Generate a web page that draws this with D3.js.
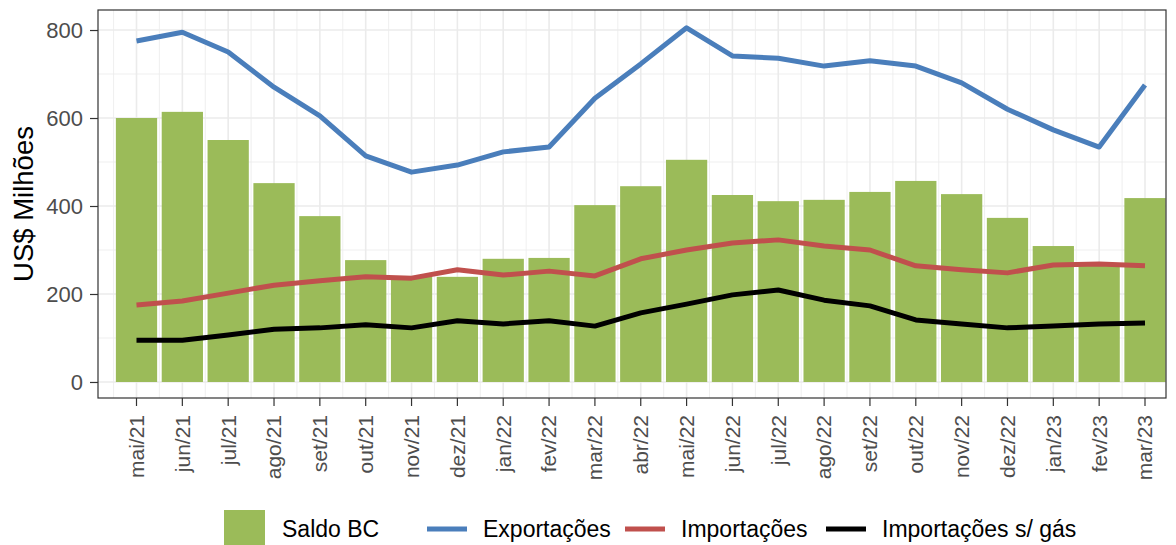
<!DOCTYPE html>
<html>
<head>
<meta charset="utf-8">
<script src="https://cdn.jsdelivr.net/npm/d3@7"></script>
<style>
  body { margin: 0; background: #fff; }
  text { font-family: "Liberation Sans", Arial, sans-serif; }
</style>
</head>
<body>
<div id="chart"></div>
<script>
const months = ["mai/21","jun/21","jul/21","ago/21","set/21","out/21","nov/21","dez/21",
  "jan/22","fev/22","mar/22","abr/22","mai/22","jun/22","jul/22","ago/22","set/22","out/22",
  "nov/22","dez/22","jan/23","fev/23","mar/23"];
const saldo = [600,614,550,452,377,277,241,239,280,282,402,445,505,425,411,414,432,457,427,373,309,266,418];
const exportacoes = [775,795,750,670,605,514,477,493,523,534,645,723,805,741,736,718,730,718,680,620,573,534,675];
const importacoes = [175,184,202,220,230,239,236,255,243,252,241,280,300,316,323,309,300,264,255,248,266,268,264];
const importSemGas = [95,95,107,120,123,130,123,139,132,139,127,157,177,198,209,186,173,141,132,123,127,132,134];
const yTicks = [0,200,400,600,800];

const W = 1176, H = 545;
const panel = {left: 98, right: 1166, top: 10, bottom: 398};

const svg = d3.select("#chart").append("svg")
  .attr("width", W).attr("height", H);

// x: band scale, first/last centers at ~136.5 and ~1145
const step = (1145 - 136.5) / (months.length - 1);
const x = d3.scaleBand()
  .domain(months)
  .range([136.5 - step / 2, 1145 + step / 2])
  .paddingInner(0.1)
  .paddingOuter(0.05);
const xc = d => x(d) + x.bandwidth() / 2;

const y = d3.scaleLinear()
  .domain([-36.4, 845.5])
  .range([panel.bottom, panel.top]);

// panel background + grid
svg.append("rect")
  .attr("x", panel.left).attr("y", panel.top)
  .attr("width", panel.right - panel.left).attr("height", panel.bottom - panel.top)
  .attr("fill", "#fff");

const grid = svg.append("g");
const vline = (xv, w) => grid.append("line")
  .attr("x1", xv).attr("x2", xv)
  .attr("y1", panel.top).attr("y2", panel.bottom)
  .attr("stroke", "#ebebeb").attr("stroke-width", w);
const hline = (v, w) => grid.append("line")
  .attr("x1", panel.left).attr("x2", panel.right)
  .attr("y1", y(v)).attr("y2", y(v))
  .attr("stroke", "#ebebeb").attr("stroke-width", w);

// minor grid
d3.range(100, 800, 200).forEach(v => hline(v, 0.8));
vline(xc(months[0]) - step / 2, 0.8);
months.slice(0, -1).forEach((m, i) => vline((xc(m) + xc(months[i + 1])) / 2, 0.8));
// major grid
yTicks.forEach(v => hline(v, 1.6));
months.forEach(m => vline(xc(m), 1.6));

// bars
svg.append("g").selectAll("rect")
  .data(months)
  .enter()
  .append("rect")
  .attr("x", d => x(d))
  .attr("y", (d, i) => y(saldo[i]))
  .attr("width", x.bandwidth())
  .attr("height", (d, i) => y(0) - y(saldo[i]))
  .attr("fill", "#9bbb59");

// lines
const series = [
  {name: "Exportações", values: exportacoes, color: "#4a7ebb"},
  {name: "Importações", values: importacoes, color: "#c0504d"},
  {name: "Importações s/ gás", values: importSemGas, color: "#000000"}
];
const line = d3.line()
  .x((d, i) => xc(months[i]))
  .y(d => y(d));
series.forEach(s => {
  svg.append("path")
    .datum(s.values)
    .attr("d", line)
    .attr("fill", "none")
    .attr("stroke", s.color)
    .attr("stroke-width", 5)
    .attr("stroke-linejoin", "round");
});

// panel border
svg.append("rect")
  .attr("x", panel.left).attr("y", panel.top)
  .attr("width", panel.right - panel.left).attr("height", panel.bottom - panel.top)
  .attr("fill", "none").attr("stroke", "#333").attr("stroke-width", 1.2);

// y axis
const yAxis = svg.append("g")
  .attr("transform", `translate(${panel.left},0)`)
  .call(d3.axisLeft(y).tickValues(yTicks).tickSize(8).tickPadding(7));
yAxis.select(".domain").remove();
yAxis.selectAll(".tick line").attr("stroke", "#333").attr("stroke-width", 1.2);
yAxis.selectAll(".tick text")
  .attr("fill", "#4d4d4d").style("font-size", "22px")
  .attr("dy", "0.35em");

// x axis
const xAxis = svg.append("g")
  .attr("transform", `translate(0,${panel.bottom})`)
  .call(d3.axisBottom(x).tickSize(8).tickPadding(0));
xAxis.select(".domain").remove();
xAxis.selectAll(".tick line").attr("stroke", "#333").attr("stroke-width", 1.2);
xAxis.selectAll(".tick text")
  .attr("fill", "#4d4d4d").style("font-size", "21px")
  .attr("transform", "rotate(-90)")
  .attr("x", -17).attr("y", 0).attr("dy", "0.35em")
  .style("text-anchor", "end");

// y title
svg.append("text")
  .attr("transform", "translate(33,204) rotate(-90)")
  .attr("text-anchor", "middle")
  .style("font-size", "27.5px")
  .attr("fill", "#000")
  .text("US$ Milhões");

// legend
const lg = svg.append("g");
const ly = 529;
lg.append("rect")
  .attr("x", 224).attr("y", 510).attr("width", 41).attr("height", 40)
  .attr("fill", "#9bbb59");
lg.append("text").attr("x", 282).attr("y", ly).attr("dy", "0.35em")
  .style("font-size", "23px").text("Saldo BC");
const lineKeys = [427, 625, 826];
series.forEach((s, i) => {
  lg.append("line")
    .attr("x1", lineKeys[i]).attr("x2", lineKeys[i] + 40)
    .attr("y1", ly).attr("y2", ly)
    .attr("stroke", s.color).attr("stroke-width", 5);
  lg.append("text").attr("x", lineKeys[i] + 56).attr("y", ly).attr("dy", "0.35em")
    .style("font-size", "23px").text(s.name);
});
</script>
</body>
</html>
